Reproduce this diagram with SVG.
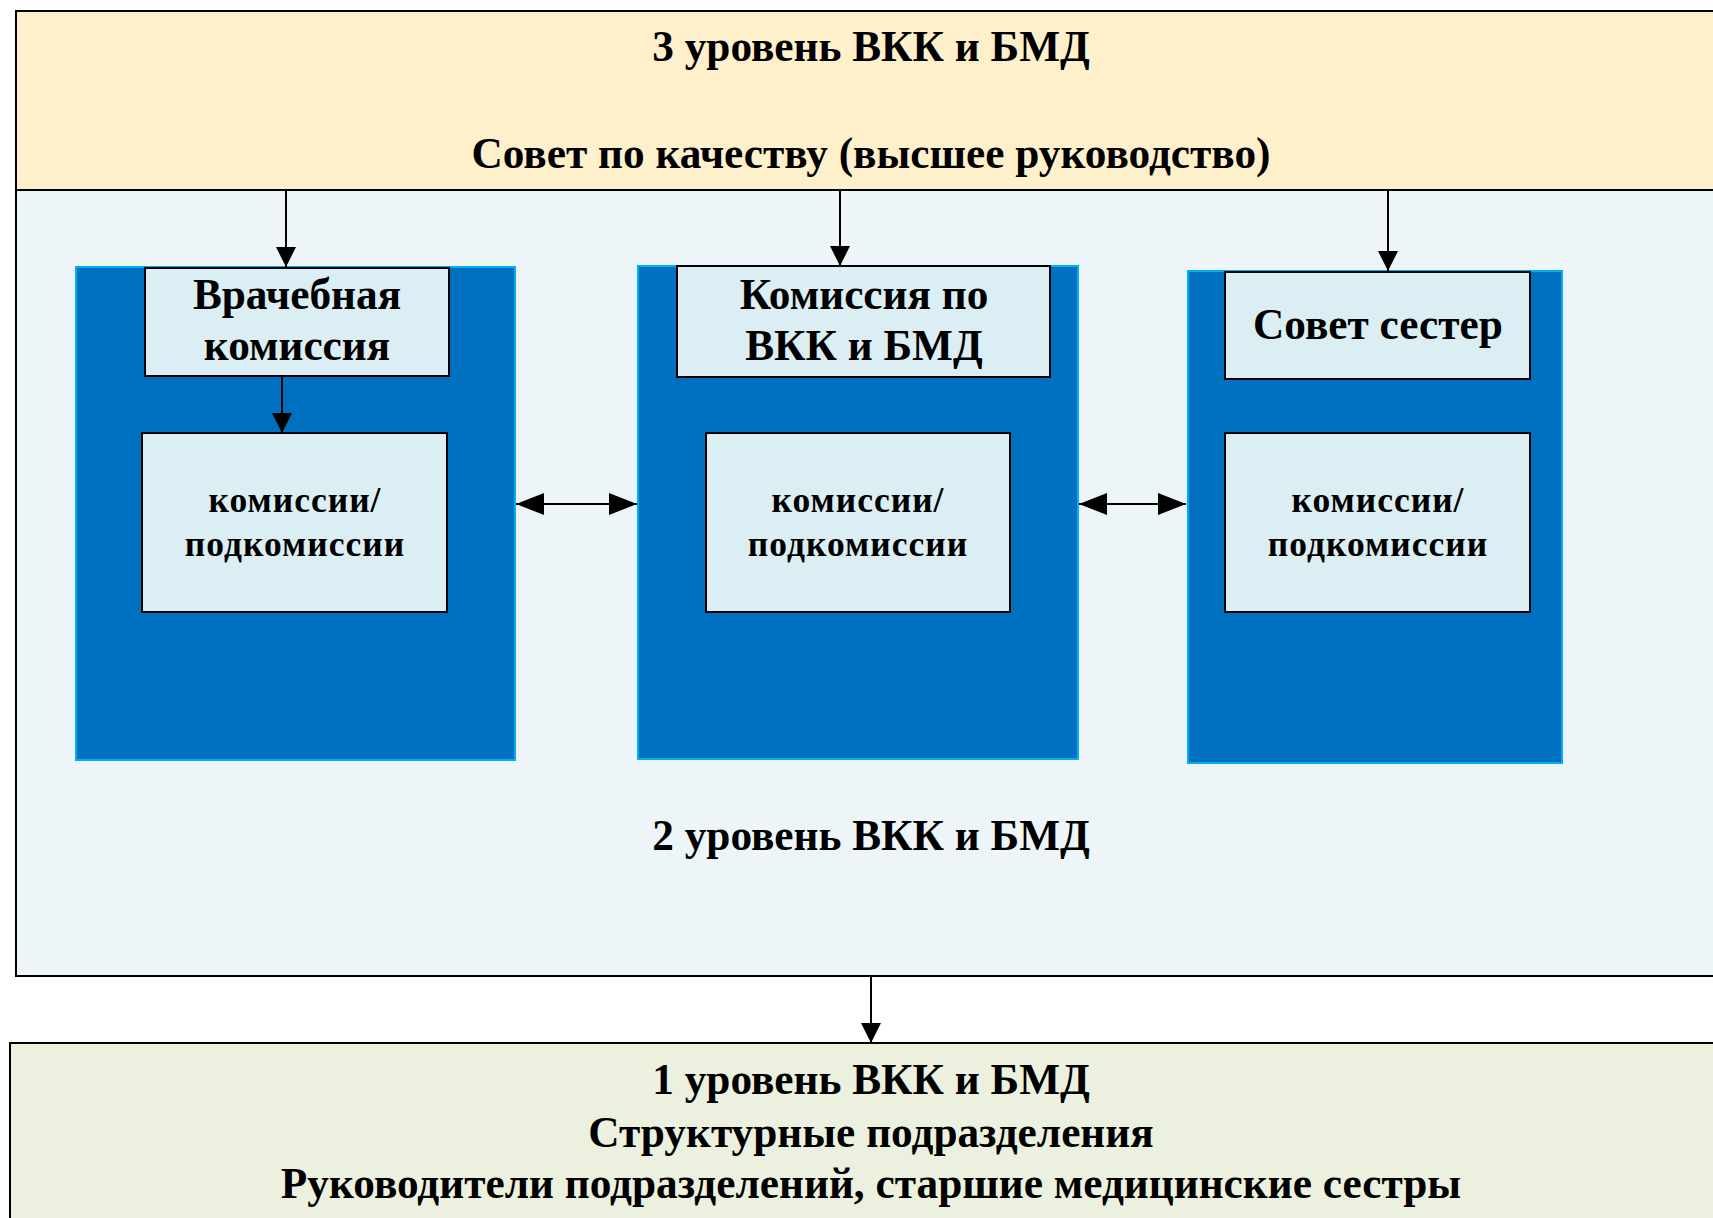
<svg xmlns="http://www.w3.org/2000/svg" width="1713" height="1218" viewBox="0 0 1713 1218">
  <defs>
    <style>
      .t { font-family: "Liberation Serif", "Times New Roman", serif; font-weight: bold; fill: #000; text-anchor: middle; }
      .big { font-size: 43.3px; }
      .lbl { font-size: 43.3px; }
      .sub { font-size: 35.5px; letter-spacing: 1px; }
      .blue { fill: #0070C0; stroke: #00B0F0; stroke-width: 2; }
      .inner { fill: #DAEEF3; stroke: #000; stroke-width: 2; }
      .conn { stroke: #000; stroke-width: 2; fill: none; }
    </style>
    <marker id="ah" markerUnits="userSpaceOnUse" markerWidth="20" markerHeight="20" refX="20" refY="10" orient="auto">
      <path d="M0,0 L20,10 L0,20 z" fill="#000"/>
    </marker>
    <marker id="ahb" markerUnits="userSpaceOnUse" markerWidth="28" markerHeight="22" refX="28" refY="11" orient="auto-start-reverse">
      <path d="M0,0 L28,11 L0,22 z" fill="#000"/>
    </marker>
  </defs>
  <rect width="1713" height="1218" fill="#FFFFFF"/>

  <g id="level3">
    <rect x="16" y="11" width="1710" height="179" fill="#FFF0CC" stroke="#000" stroke-width="2"/>
    <text class="t big" x="871" y="61">3 уровень ВКК и БМД</text>
    <text class="t big" x="871" y="168">Совет по качеству (высшее руководство)</text>
  </g>

  <g id="level2">
    <rect x="16" y="190" width="1710" height="786" fill="#EDF5F8" stroke="#000" stroke-width="2"/>
    <text class="t big" x="871" y="850">2 уровень ВКК и БМД</text>
  </g>

  <g id="group-vk">
    <rect class="blue" x="76" y="267" width="439" height="493"/>
  </g>
  <g id="group-vkk">
    <rect class="blue" x="638" y="266" width="440" height="493"/>
  </g>
  <g id="group-ss">
    <rect class="blue" x="1188" y="271" width="374" height="492"/>
  </g>

  <g id="vk">
    <rect class="inner" x="145" y="268" width="304" height="108"/>
    <text class="t lbl" x="297" y="309">Врачебная</text>
    <text class="t lbl" x="297" y="360">комиссия</text>
  </g>
  <g id="vk-sub">
    <rect class="inner" x="142" y="433" width="305" height="179"/>
    <text class="t sub" x="295" y="512">комиссии/</text>
    <text class="t sub" x="295" y="556">подкомиссии</text>
  </g>

  <g id="vkk">
    <rect class="inner" x="677" y="266" width="373" height="111"/>
    <text class="t lbl" x="864" y="309">Комиссия по</text>
    <text class="t lbl" x="864" y="360">ВКК и БМД</text>
  </g>
  <g id="vkk-sub">
    <rect class="inner" x="706" y="433" width="304" height="179"/>
    <text class="t sub" x="858" y="512">комиссии/</text>
    <text class="t sub" x="858" y="556">подкомиссии</text>
  </g>

  <g id="ss">
    <rect class="inner" x="1225" y="272" width="305" height="107"/>
    <text class="t lbl" x="1378" y="339">Совет сестер</text>
  </g>
  <g id="ss-sub">
    <rect class="inner" x="1225" y="433" width="305" height="179"/>
    <text class="t sub" x="1378" y="512">комиссии/</text>
    <text class="t sub" x="1378" y="556">подкомиссии</text>
  </g>

  <g id="level1">
    <rect x="10" y="1043" width="1720" height="190" fill="#EBF1DE" stroke="#000" stroke-width="2"/>
    <text class="t big" x="871" y="1094">1 уровень ВКК и БМД</text>
    <text class="t big" x="871" y="1147">Структурные подразделения</text>
    <text class="t big" x="871" y="1198">Руководители подразделений, старшие медицинские сестры</text>
  </g>

  <g id="connectors">
    <path class="conn" d="M286,190 L286,267" marker-end="url(#ah)"/>
    <path class="conn" d="M840,190 L840,266" marker-end="url(#ah)"/>
    <path class="conn" d="M1388,190 L1388,271" marker-end="url(#ah)"/>
    <path class="conn" d="M282,376 L282,433" marker-end="url(#ah)"/>
    <path class="conn" d="M516,504 L637,504" marker-start="url(#ahb)" marker-end="url(#ahb)"/>
    <path class="conn" d="M1079,504 L1186,504" marker-start="url(#ahb)" marker-end="url(#ahb)"/>
    <path class="conn" d="M871,976 L871,1043" marker-end="url(#ah)"/>
  </g>
</svg>
